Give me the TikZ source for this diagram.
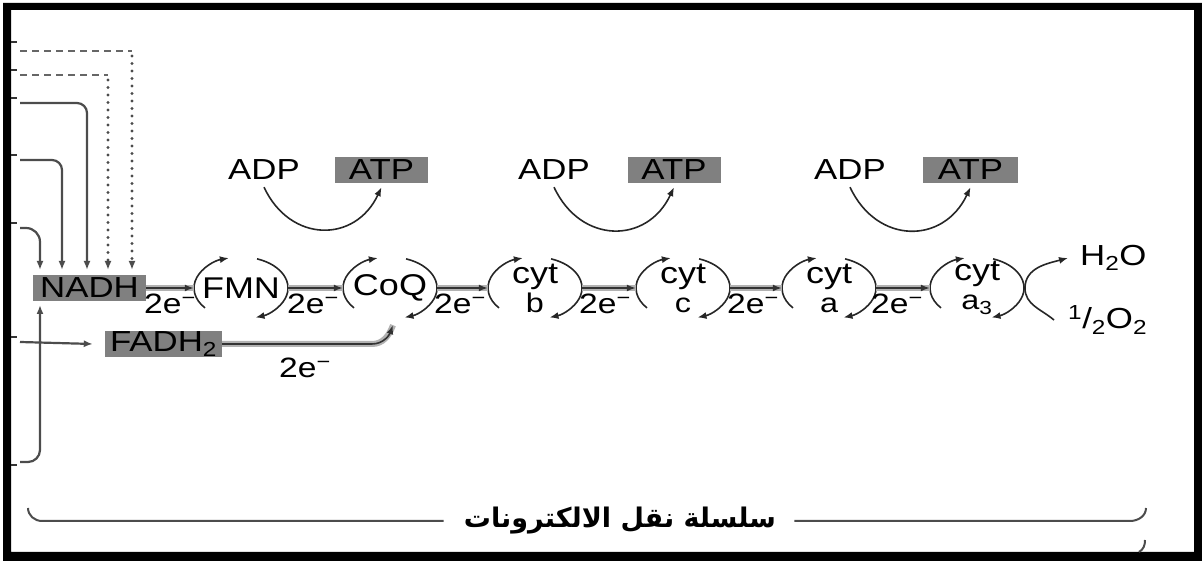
\documentclass[tikz,border=0pt]{standalone}
\usepackage{fontspec}
\setmainfont{Liberation Sans}[FakeStretch=1.2]
\newfontfamily\arabicfont[Script=Arabic]{DejaVu Sans}
\TeXXeTstate=1
\usetikzlibrary{arrows.meta,calc}

\newcommand\redoxarcs[1]{%
  \draw[cyc] ($(#1.center)+(220:47pt and 31pt)$) arc[start angle=220,end angle=105,x radius=47pt,y radius=31pt];
  \draw[cyc] ($(#1.center)+(70:47pt and 31pt)$) arc[start angle=70,end angle=-72,x radius=47pt,y radius=31pt];}

\begin{document}
\begin{tikzpicture}[x=1pt,y=1pt,
  lbl/.style={font=\fontsize{29}{32}\selectfont, inner sep=2pt},
  elbl/.style={font=\fontsize{28}{30}\selectfont, inner sep=0pt, anchor=base},
  graybox/.style={fill=black!50, inner sep=0pt, font=\fontsize{29}{32}\selectfont},
  carrier/.style={rectangle, minimum width=94pt, minimum height=62pt, inner sep=0pt, align=center, font=\fontsize{30}{29}\selectfont},
  cyc/.style={draw=black!85, line width=1.6pt, -{Latex[length=9pt,width=7pt]}},
  etrans/.style={draw=black!80, line width=1.6pt, -{Latex[length=9pt,width=7pt]}, preaction={draw=black!30,line width=6pt,-}},
  feed/.style={draw=black!70, line width=2.2pt, -{Latex[length=9pt,width=7pt]}},
  dashfeed/.style={draw=black!60, line width=2pt, dash pattern=on 7pt off 5pt},
  dotfeed/.style={draw=black!70, line width=3.2pt, line cap=round, dash pattern=on 0pt off 7.5pt, -{Latex[length=9pt,width=7pt]}},
  tick/.style={draw=black!80, line width=2pt},
  brace/.style={draw=black!70, line width=2pt}
]
\useasboundingbox (0,0) rectangle (1202,561);
% frame
\fill[black, even odd rule] (3,0) rectangle (1202,558) (11,9) rectangle (1194,551);

% carriers
\node[graybox, minimum width=113pt, minimum height=26pt] (nadh) at (89.5,273) {NADH};
\node[graybox, minimum width=117pt, minimum height=24pt] (fadh) at (163.5,217) {FADH\textsubscript{2}};
\node[carrier] (fmn) at (241,273) {FMN};
\node[carrier] (coq) at (390,273) {CoQ};
\node[carrier] (cb) at (535,273) {cyt\\{\fontsize{27}{27}\selectfont b}};
\node[carrier] (cc) at (683,273) {cyt\\{\fontsize{27}{27}\selectfont c}};
\node[carrier] (ca) at (829,273) {cyt\\{\fontsize{27}{27}\selectfont a}};
\node[carrier] (ca3) at (977,273) {cyt\\{\fontsize{27}{27}\selectfont a\textsubscript{3}}};
\foreach \n in {fmn,coq,cb,cc,ca,ca3}{\redoxarcs{\n}}

% electron transfer
\draw[etrans] (nadh.east) -- (fmn.west);
\draw[etrans] (fmn.east) -- (coq.west);
\draw[etrans] (coq.east) -- (cb.west);
\draw[etrans] (cb.east) -- (cc.west);
\draw[etrans] (cc.east) -- (ca.west);
\draw[etrans] (ca.east) -- (ca3.west);
\coordinate (fadhbend) at (372,217);
\draw[etrans] (fadh.east) -- (fadhbend) to[out=0,in=-110] ([xshift=3pt,yshift=-6pt]coq.south);

% 2e- labels
\node[elbl] (e1) at (170,247) {2e\textsuperscript{−}};
\node[elbl] (e2) at (313,247) {2e\textsuperscript{−}};
\node[elbl] (e3) at (460,247) {2e\textsuperscript{−}};
\node[elbl] (e4) at (605,247) {2e\textsuperscript{−}};
\node[elbl] (e5) at (753,247) {2e\textsuperscript{−}};
\node[elbl] (e6) at (897,247) {2e\textsuperscript{−}};
\node[elbl] (e7) at (305,183) {2e\textsuperscript{−}};

% ADP / ATP
\node[lbl] (adp1) at (264,391) {ADP};
\node[graybox, minimum width=93pt, minimum height=26pt] (atp1) at (381.5,391) {ATP};
\node[lbl] (adp2) at (554,391) {ADP};
\node[graybox, minimum width=93pt, minimum height=26pt] (atp2) at (674,391) {ATP};
\node[lbl] (adp3) at (850,391) {ADP};
\node[graybox, minimum width=95pt, minimum height=26pt] (atp3) at (970.5,391) {ATP};
\foreach \i in {1,2,3}{
  \draw[cyc, looseness=1.35] ([yshift=-5pt]adp\i.south) to[out=-65,in=-115] ([yshift=-4pt]atp\i.south);
}

% oxygen / water
\node[lbl, anchor=west] (h2o) at (1078,303) {H\textsubscript{2}O};
\node[lbl, anchor=west] (o2) at (1066,241) {\textsuperscript{1}/\textsubscript{2}O\textsubscript{2}};
\coordinate (cross) at ($(ca3.center)+(48,0)$);
\draw[cyc] ([xshift=-12pt]o2.west) to[out=140,in=-90] (cross) to[out=90,in=195] ([xshift=-10pt]h2o.west);

% feeding lines on the left
\coordinate (s1) at (20,510); \coordinate (c1) at (132,510); \coordinate (t1) at (132,291);
\coordinate (s2) at (20,486); \coordinate (c2) at (108,486); \coordinate (t2) at (108,291);
\coordinate (s3) at (20,458); \coordinate (t3) at (87,291);
\coordinate (s4) at (20,401); \coordinate (t4) at (62,291);
\coordinate (s5) at (20,333); \coordinate (t5) at (40,291);
\coordinate (s6) at (20,219);
\coordinate (s7) at (20,99);  \coordinate (t7) at (40,256);
\draw[dashfeed] (s1) -- (c1);
\draw[dotfeed] ([yshift=-5pt]c1) -- (t1);
\draw[dashfeed] (s2) -- (c2);
\draw[dotfeed] ([yshift=-5pt]c2) -- (t2);
\draw[feed, rounded corners=10pt] (s3) -| (t3);
\draw[feed, rounded corners=10pt] (s4) -| (t4);
\draw[feed, rounded corners=14pt] (s5) -| (t5);
\draw[feed] (s6) -- ([xshift=-12pt]fadh.west);
\draw[feed, rounded corners=12pt] (s7) -| (t7);
\foreach \y in {519,491,463,406,338,224,96}{\draw[tick] (11,\y) -- (17,\y);}

% bottom brace
\node[font=\arabicfont\bfseries\fontsize{27}{29}\selectfont, inner sep=0pt] (chain) at (620,40) {\beginR سلسلة نقل الالكترونات\endR};
\coordinate (bl) at (28,53);
\coordinate (br) at (1146,53);
\draw[brace] ([xshift=-20pt]chain.west) -- (42,40) to[out=180,in=-90] (bl);
\draw[brace] ([xshift=18pt]chain.east) -- (1130,40) to[out=0,in=-90] (br);
\coordinate (tk1) at (1139,9);
\coordinate (tk2) at (1145,21);
\draw[brace] (tk1) to[out=30,in=-90] (tk2);
\end{tikzpicture}
\end{document}
